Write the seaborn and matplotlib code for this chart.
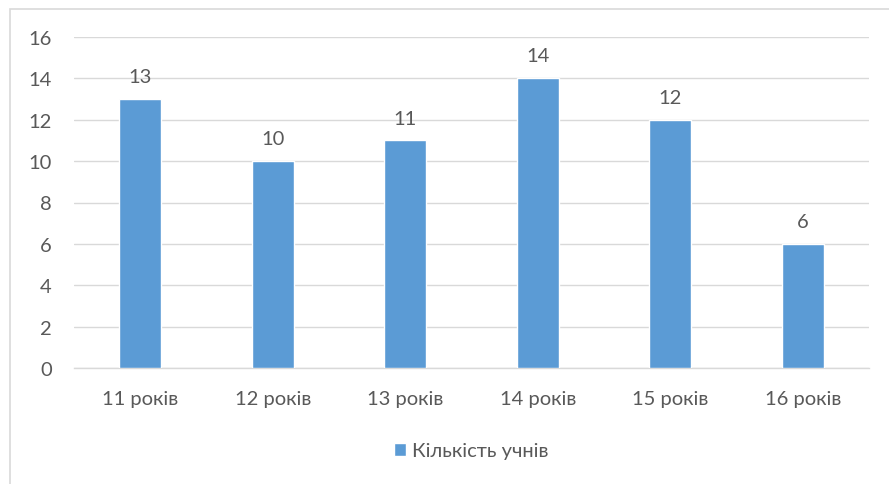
import matplotlib
matplotlib.use("Agg")
import matplotlib.pyplot as plt
import seaborn as sns
import pandas as pd
from matplotlib.patches import Rectangle

categories = ["11 років", "12 років", "13 років", "14 років", "15 років", "16 років"]
values = [13, 10, 11, 14, 12, 6]
series_name = "Кількість учнів"
y_ticks = [0, 2, 4, 6, 8, 10, 12, 14, 16]

sns.set_theme(style="white")
plt.rcParams['font.family'] = ['Lato', 'DejaVu Sans']

df = pd.DataFrame({"cat": categories, "val": values})
color = "#5B9BD5"
text_color = "#595959"
fs = 14.5

fig = plt.figure(figsize=(8.89, 4.85), dpi=100)
ax = fig.add_axes([74/889, 1-369/485, (869-74)/889, (369-38)/485])

sns.barplot(data=df, x="cat", y="val", color=color, width=0.32, ax=ax,
            saturation=1, label=series_name, zorder=3)

ax.set_ylim(0, 16)
ax.set_yticks(y_ticks)
ax.set_xlim(-0.5, len(categories) - 0.5)
ax.yaxis.grid(True, color="#D9D9D9", linewidth=1, zorder=0)
ax.set_axisbelow(True)
for s in ["top", "right", "left"]:
    ax.spines[s].set_visible(False)
ax.spines["bottom"].set_color("#D9D9D9")
ax.spines["bottom"].set_linewidth(1)
ax.set_xlabel("")
ax.set_ylabel("")
ax.tick_params(axis="both", length=0, labelsize=fs, colors=text_color)
ax.tick_params(axis="y", pad=16)
ax.tick_params(axis="x", pad=16)

for c in ax.containers:
    ax.bar_label(c, labels=[str(v) for v in values], padding=10, fontsize=fs, color=text_color)

leg = ax.legend(loc="center", bbox_to_anchor=(0.5, (1-452/485 - (1-369/485)) / ((369-38)/485)),
                frameon=False, fontsize=fs, handlelength=0.6, handleheight=0.6,
                handletextpad=0.3, labelcolor=text_color)

fig.patches.append(Rectangle((10/889, -0.1), 1.0, 1 - 10/485 + 0.1, transform=fig.transFigure,
                             fill=False, edgecolor="#D9D9D9", linewidth=1.2))

fig.savefig("out.png", dpi=100)
